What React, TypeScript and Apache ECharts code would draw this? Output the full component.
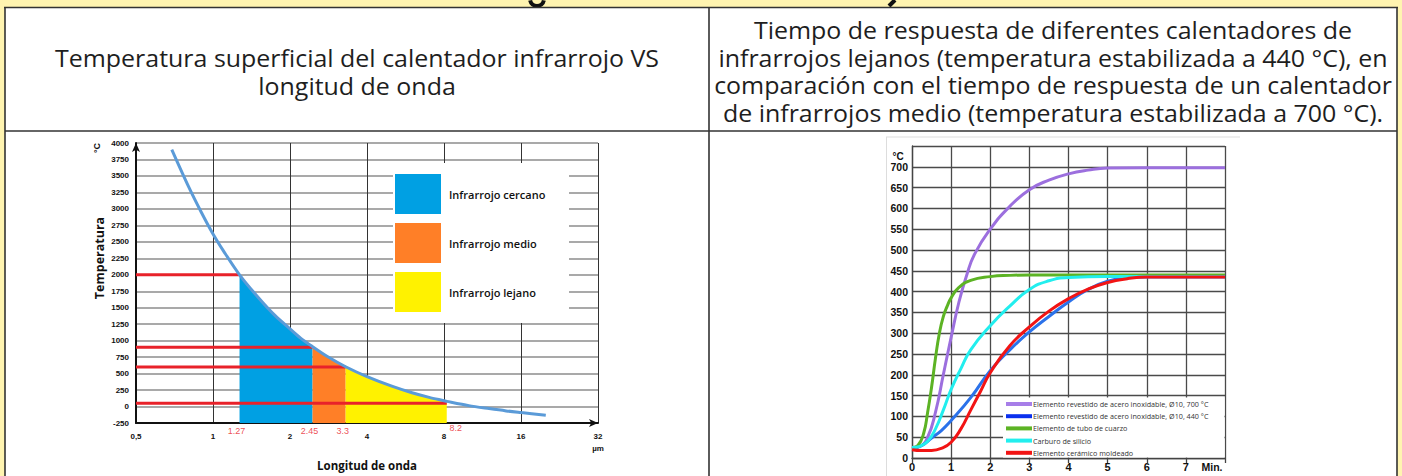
import React, { useEffect, useRef } from 'react';
import * as echarts from 'echarts';

// ---------- Left chart: surface temperature vs wavelength ----------
const wavelengthUm = [0.69, 0.8, 0.9, 1.0, 1.1, 1.27, 1.5, 1.75, 2.0, 2.2, 2.45, 2.8, 3.3, 4.0, 5.0, 6.0, 7.0, 8.0, 8.2, 10, 12, 14, 16, 20];
const surfaceTempC = [3900, 3350, 2950, 2620, 2360, 2000, 1660, 1380, 1180, 1040, 910, 760, 605, 455, 310, 210, 140, 90, 80, 15, -30, -65, -90, -130];
const bandNames = ['Infrarrojo cercano', 'Infrarrojo medio', 'Infrarrojo lejano'];
const bandEdges = [1.27, 2.45, 3.3, 8.2];
const edgeLabels = ['1.27', '2.45', '3.3', '8.2'];
const redLineTemps = [2000, 900, 600, 50];
const bandColors = ['#00A0E3', '#FF7F27', '#FFF200'];

// ---------- Right chart: response time ----------
const heaterNames = [
  'Elemento revestido de acero inoxidable, Ø10, 700 °C',
  'Elemento revestido de acero inoxidable, Ø10, 440 °C',
  'Elemento de tubo de cuarzo',
  'Carburo de silicio',
  'Elemento cerámico moldeado',
];
const heaterColors = ['#9C6FDE', '#2B72EA', '#5CB324', '#22EEEE', '#F21414'];
const legendColors = ['#A77EE8', '#0A30EE', '#5CB324', '#22EEEE', '#F21414'];

const purpleT = [0, 0.2, 0.4, 0.6, 0.8, 1.0, 1.2, 1.4, 1.6, 2.0, 2.5, 3.0, 3.5, 4.0, 4.5, 5.0, 6, 7, 8];
const purpleV = [25, 28, 50, 110, 200, 290, 375, 440, 490, 550, 605, 645, 668, 683, 692, 697, 698, 698, 698];
const blueT = [0, 0.25, 0.5, 0.75, 1.0, 1.5, 2.0, 2.5, 3.0, 3.5, 4.0, 4.5, 5.0, 5.5, 6, 7, 8];
const blueV = [22, 30, 48, 66, 90, 145, 210, 260, 303, 340, 375, 405, 425, 433, 435, 435, 435];
const greenT = [0, 0.15, 0.3, 0.4, 0.5, 0.6, 0.7, 0.8, 0.9, 1.0, 1.2, 1.5, 2.0, 2.5, 3, 4, 5, 6, 7, 8];
const greenV = [25, 30, 60, 110, 170, 240, 300, 340, 365, 385, 410, 427, 436, 439, 440, 440, 440, 440, 440, 440];
const cyanT = [0, 0.2, 0.4, 0.6, 0.8, 1.0, 1.25, 1.5, 2.0, 2.5, 3.0, 3.5, 4.0, 5, 6, 7, 8];
const cyanV = [25, 28, 40, 70, 115, 165, 215, 260, 318, 365, 405, 426, 434, 436, 436, 436, 436];
const redT = [0, 0.25, 0.5, 0.75, 1.0, 1.25, 1.5, 1.75, 2.0, 2.5, 3.0, 3.5, 4.0, 4.5, 5.0, 5.5, 6, 7, 8];
const redV = [20, 18, 18, 23, 38, 70, 115, 160, 205, 270, 315, 353, 383, 406, 422, 431, 435, 435, 435];

const heaterData = [
  [purpleT, purpleV],
  [blueT, blueV],
  [greenT, greenV],
  [cyanT, cyanV],
  [redT, redV],
];

// ---------- Header texts ----------
const leftHeaderLines = ['Temperatura superficial del calentador infrarrojo VS', 'longitud de onda'];
const rightHeaderLines = [
  'Tiempo de respuesta de diferentes calentadores de',
  'infrarrojos lejanos (temperatura estabilizada a 440 °C), en',
  'comparación con el tiempo de respuesta de un calentador',
  'de infrarrojos medio (temperatura estabilizada a 700 °C).',
];

const ARIAL = '"Liberation Sans", Arial, sans-serif';
const OPEN = '"Open Sans", "Noto Sans", sans-serif';

function buildOption(): any {
  const curve = wavelengthUm.map((x, i) => [x, surfaceTempC[i]]);
  const bandSeries = bandNames.map((name, b) => ({
    name,
    type: 'line',
    xAxisIndex: 0,
    yAxisIndex: 0,
    data: curve.filter(([x]) => x >= bandEdges[b] - 1e-9 && x <= bandEdges[b + 1] + 1e-9),
    smooth: 0.3,
    showSymbol: false,
    symbol: 'none',
    lineStyle: { width: 0, color: bandColors[b] },
    itemStyle: { color: bandColors[b] },
    areaStyle: { color: bandColors[b], opacity: 1, origin: 'start' },
    z: 2,
    silent: true,
  }));

  const redLines = redLineTemps.map((t, i) => ({
    type: 'line',
    xAxisIndex: 0,
    yAxisIndex: 0,
    data: [
      [0.5, t],
      [bandEdges[i], t],
    ],
    showSymbol: false,
    symbol: 'none',
    lineStyle: { width: 3, color: '#E8222A' },
    z: 4,
    silent: true,
  }));

  const heaterSeries = heaterNames.map((name, k) => ({
    name,
    type: 'line',
    xAxisIndex: 1,
    yAxisIndex: 1,
    data: heaterData[k][0].map((t, i) => [t, heaterData[k][1][i]]),
    smooth: true,
    showSymbol: false,
    symbol: 'none',
    lineStyle: { width: 3, color: heaterColors[k] },
    itemStyle: { color: heaterColors[k] },
    z: 3 + k,
  }));

  const tl = (x: number, y: number, text: string, font: string, extra: any = {}) => ({
    type: 'text',
    x,
    y,
    ...extra,
    style: {
      text,
      font,
      fill: '#222',
      textAlign: 'center',
      textVerticalAlign: 'middle',
      align: 'center',
      verticalAlign: 'middle',
      ...(extra.style || {}),
    },
  });

  const headerFont = `23px ${OPEN}`;
  const headerTexts = [
    ...leftHeaderLines.map((t, i) => tl(357, 58 + i * 28, t, headerFont, { scaleX: 1.085, style: { fill: '#1E1E1E' } })),
    ...rightHeaderLines.map((t, i) => tl(1053, 30 + i * 27.6, t, headerFont, { scaleX: 1.085, style: { fill: '#1E1E1E' } })),
  ];

  const graphics: any[] = [
    // white table body
    { type: 'rect', z: -10, shape: { x: 5, y: 7, width: 1392, height: 480 }, style: { fill: '#FFFFFF' } },
    // cut-off title descenders
    { type: 'arc', z: 1, shape: { cx: 537, cy: -1, r: 7, startAngle: 0.2, endAngle: Math.PI - 0.2 }, style: { stroke: '#111', lineWidth: 4, fill: null } },
    { type: 'line', z: 1, shape: { x1: 895, y1: 0, x2: 889, y2: 6 }, style: { stroke: '#111', lineWidth: 4 } },
    // table lines
    { type: 'line', z: 1, shape: { x1: 4, y1: 7.5, x2: 1398, y2: 7.5 }, style: { stroke: '#333', lineWidth: 1.6 } },
    { type: 'line', z: 1, shape: { x1: 5, y1: 7, x2: 5, y2: 476 }, style: { stroke: '#333', lineWidth: 1.6 } },
    { type: 'line', z: 1, shape: { x1: 1397, y1: 7, x2: 1397, y2: 476 }, style: { stroke: '#333', lineWidth: 1.6 } },
    { type: 'line', z: 1, shape: { x1: 709, y1: 7, x2: 709, y2: 476 }, style: { stroke: '#333', lineWidth: 1.6 } },
    { type: 'line', z: 1, shape: { x1: 5, y1: 131, x2: 1397, y2: 131 }, style: { stroke: '#333', lineWidth: 1.6 } },
    // faint frame of right picture
    { type: 'line', z: 1, shape: { x1: 886, y1: 137, x2: 1240, y2: 137 }, style: { stroke: '#DDDDDD', lineWidth: 1 } },
    { type: 'line', z: 1, shape: { x1: 886.5, y1: 137, x2: 886.5, y2: 476 }, style: { stroke: '#DDDDDD', lineWidth: 1 } },
    // headers
    ...headerTexts,
    // left chart axis names
    tl(99, 258, 'Temperatura', `bold 12.5px ${OPEN}`, { rotation: Math.PI / 2, style: { fill: '#111' } }),
    tl(97, 148, '°C', `bold 9px ${ARIAL}`, { rotation: Math.PI / 2, style: { fill: '#111' } }),
    // legend backgrounds (hide grid lines)
    { type: 'rect', z: 3, shape: { x: 393, y: 163, width: 176, height: 160 }, style: { fill: '#FFFFFF' } },
    { type: 'rect', z: 3, shape: { x: 1003, y: 397.6, width: 221.5, height: 59.8 }, style: { fill: '#FFFFFF' } },
    // right chart unit
    tl(898, 156, '°C', `bold 10px ${ARIAL}`, { style: { fill: '#111' } }),
  ];

  return {
    animation: false,
    backgroundColor: '#FFF4B0',
    grid: [
      { left: 136, top: 143, width: 462, height: 296, containLabel: false },
      { left: 912, top: 146, width: 313, height: 312, containLabel: false },
    ],
    xAxis: [
      {
        gridIndex: 0,
        type: 'log',
        logBase: 2,
        min: 0.5,
        max: 32,
        name: 'Longitud de onda',
        nameLocation: 'middle',
        nameGap: 27,
        nameTextStyle: { fontFamily: OPEN, fontWeight: 'bold', fontSize: 11.5, color: '#111' },
        axisLine: { show: true, onZero: false, symbol: ['none', 'arrow'], symbolSize: [6, 9], lineStyle: { color: '#111', width: 2 } },
        axisTick: { show: false },
        minorTick: { show: false },
        splitLine: { show: true, lineStyle: { color: '#333', width: 1 } },
        axisLabel: {
          margin: 7,
          fontFamily: ARIAL,
          fontWeight: 'bold',
          fontSize: 8,
          color: '#111',
          lineHeight: 12,
          formatter: (v: number) => {
            const r = Math.round(v * 100) / 100;
            if (r === 0.5) return '0,5';
            if (r === 32) return '32\nµm';
            return String(r);
          },
        },
      },
      {
        gridIndex: 1,
        type: 'value',
        min: 0,
        max: 8,
        interval: 1,
        axisLine: { show: true, onZero: false, lineStyle: { color: '#444', width: 1.3 } },
        axisTick: { show: true, length: 5, lineStyle: { color: '#444', width: 1.3 } },
        splitLine: { show: true, lineStyle: { color: '#4A4A4A', width: 1.3 } },
        axisLabel: {
          margin: 3,
          fontFamily: ARIAL,
          fontWeight: 'bold',
          fontSize: 11,
          color: '#111',
          formatter: (v: number) => (v === 8 ? '{m|Min.}' : String(v)),
          rich: { m: { fontFamily: ARIAL, fontWeight: 'bold', fontSize: 10.5, color: '#111', padding: [0, 26, 0, 0] } },
        },
      },
    ],
    yAxis: [
      {
        gridIndex: 0,
        type: 'value',
        min: -250,
        max: 4000,
        interval: 250,
        axisLine: { show: true, onZero: false, symbol: ['none', 'arrow'], symbolSize: [6, 9], lineStyle: { color: '#111', width: 2 } },
        axisTick: { show: false },
        splitLine: { show: true, lineStyle: { color: '#8C8C8C', width: 1.5 } },
        axisLabel: { margin: 7, fontFamily: ARIAL, fontWeight: 'bold', fontSize: 8, color: '#111', formatter: (v: number) => String(v) },
      },
      {
        gridIndex: 1,
        type: 'value',
        min: 0,
        max: 750,
        interval: 50,
        axisLine: { show: true, onZero: false, lineStyle: { color: '#444', width: 1.3 } },
        axisTick: { show: false },
        splitLine: { show: true, lineStyle: { color: '#4A4A4A', width: 1.3 } },
        axisLabel: {
          margin: 4,
          fontFamily: ARIAL,
          fontWeight: 'bold',
          fontSize: 10.5,
          color: '#111',
          formatter: (v: number) => (v === 750 ? '' : String(v)),
        },
      },
    ],
    legend: [
      {
        data: bandNames.map((n, i) => ({ name: n, itemStyle: { color: bandColors[i] } })),
        orient: 'vertical',
        left: 395,
        top: 174,
        padding: 0,
        itemWidth: 46,
        itemHeight: 40,
        itemGap: 9,
        icon: 'rect',
        selectedMode: false,
        z: 6,
        textStyle: { fontFamily: OPEN, fontWeight: 600, fontSize: 11, color: '#111', padding: [0, 0, 0, 3] },
      },
      {
        data: heaterNames.map((n, i) => ({ name: n, itemStyle: { color: legendColors[i] } })),
        orient: 'vertical',
        left: 1006,
        top: 399,
        padding: 0,
        itemWidth: 26,
        itemHeight: 4,
        itemGap: 2.2,
        icon: 'rect',
        selectedMode: false,
        z: 6,
        textStyle: { fontFamily: OPEN, fontSize: 7.2, color: '#333', lineHeight: 10, padding: [0, 0, 0, -4] },
      },
    ],
    graphic: { elements: graphics },
    series: [
      ...bandSeries,
      {
        type: 'line',
        xAxisIndex: 0,
        yAxisIndex: 0,
        data: curve,
        smooth: 0.3,
        showSymbol: false,
        symbol: 'none',
        lineStyle: { width: 3, color: '#5B9BD8' },
        z: 5,
        silent: true,
      },
      ...redLines,
      {
        type: 'scatter',
        xAxisIndex: 0,
        yAxisIndex: 0,
        symbolSize: 0,
        z: 6,
        silent: true,
        data: bandEdges.map((b, i) => ({
          value: [b, -250],
          label: i === 3 ? { offset: [9, -3] } : { offset: [-3, 0] },
        })),
        label: {
          show: true,
          position: 'bottom',
          distance: 3,
          fontFamily: ARIAL,
          fontSize: 9,
          color: '#E8222A',
          formatter: (p: any) => edgeLabels[p.dataIndex],
        },
      },
      ...heaterSeries,
    ],
  };
}

export default function App() {
  const ref = useRef<HTMLDivElement>(null);
  useEffect(() => {
    if (!ref.current) return;
    const chart = echarts.init(ref.current, undefined, { renderer: 'svg' });
    chart.setOption(buildOption());
    return () => chart.dispose();
  }, []);
  return (
    <div
      ref={ref}
      style={{ position: 'fixed', left: 0, top: 0, width: 1402, height: 476 }}
    />
  );
}
